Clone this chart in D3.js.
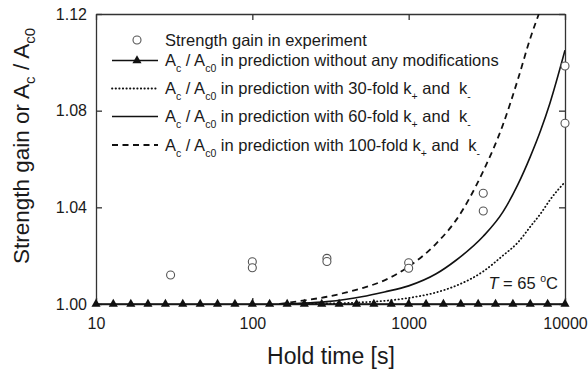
<!DOCTYPE html>
<html>
<head>
<meta charset="utf-8">
<script src="https://cdn.jsdelivr.net/npm/d3@7"></script>
<style>
body{margin:0;background:#fff;}
text{font-family:"Liberation Sans",Arial,sans-serif;fill:#1a1a1a;}
</style>
</head>
<body>
<script>
var width = 588, height = 377;

// experiment
var expTime = [30, 100, 100, 300, 300, 1000, 1000, 3000, 3000, 10000, 10000];
var expGain = [1.012, 1.0175, 1.015, 1.0189, 1.0176, 1.0171, 1.0148, 1.0458, 1.0385, 1.0985, 1.0748];

// prediction without modifications
var baseTime = [10, 12.9, 16.7, 21.5, 27.8, 35.9, 46.4, 59.9, 77.4, 100, 129, 167, 215, 278, 359, 464, 599, 774, 1000, 1292, 1668, 2154, 2783, 3594, 4642, 5995, 7743, 10000];
var baseRatio = [1, 1, 1, 1, 1, 1, 1, 1, 1, 1, 1, 1, 1, 1, 1, 1, 1, 1, 1, 1, 1, 1, 1, 1, 1, 1, 1, 1];

// predictions with scaled k+ and k-
var predTime = [150, 200, 300, 400, 500, 700, 1000, 1500, 2000, 3000, 4000, 5000, 6000, 7000, 8000, 10000];
var pred30 = [1.000, 1.000, 1.0002, 1.0004, 1.0007, 1.0013, 1.0025, 1.0048, 1.0075, 1.0135, 1.020, 1.0255, 1.032, 1.0375, 1.043, 1.0505];
var pred60 = [1.000, 1.0003, 1.001, 1.002, 1.003, 1.005, 1.0075, 1.0125, 1.018, 1.028, 1.038, 1.0495, 1.061, 1.072, 1.083, 1.105];
var dashTime = [150, 200, 300, 400, 500, 700, 1000, 1500, 2000, 3000, 4000, 5000, 6000, 6800];
var pred100 = [1.000, 1.0012, 1.003, 1.0048, 1.0065, 1.0098, 1.0155, 1.025, 1.0345, 1.055, 1.074, 1.093, 1.110, 1.12];

var xTicks = [10, 100, 1000, 10000];
var yTicks = [1.00, 1.04, 1.08, 1.12];

var pLeft = 96, pRight = 565, pTop = 14, pBottom = 304;

var svg = d3.select("body").append("svg")
    .attr("width", width)
    .attr("height", height);

var x = d3.scaleLog().domain([10, 10000]).range([pLeft, pRight]);
var y = d3.scaleLinear().domain([1.00, 1.12]).range([pBottom, pTop]);

svg.append("clipPath").attr("id", "clip")
  .append("rect")
    .attr("x", pLeft).attr("y", pTop)
    .attr("width", pRight - pLeft).attr("height", pBottom - pTop);

// axes (ticks point inward, mirrored top/right)
var axB = svg.append("g").attr("transform", "translate(0," + pBottom + ")")
    .call(d3.axisBottom(x).tickValues(xTicks).tickFormat(d3.format("d"))
        .tickSizeInner(-6).tickSizeOuter(0).tickPadding(14));
var axT = svg.append("g").attr("transform", "translate(0," + pTop + ")")
    .call(d3.axisTop(x).tickValues(xTicks).tickFormat("")
        .tickSizeInner(-6).tickSizeOuter(0));
var axL = svg.append("g").attr("transform", "translate(" + pLeft + ",0)")
    .call(d3.axisLeft(y).tickValues(yTicks).tickFormat(d3.format(".2f"))
        .tickSizeInner(-6).tickSizeOuter(0).tickPadding(9));
var axR = svg.append("g").attr("transform", "translate(" + pRight + ",0)")
    .call(d3.axisRight(y).tickValues(yTicks).tickFormat("")
        .tickSizeInner(-6).tickSizeOuter(0));

[axB, axT, axL, axR].forEach(function(a){
    a.selectAll("path,line").attr("stroke", "#333").attr("stroke-width", 1.3);
    a.selectAll("text").style("font-size", "16px").attr("fill", "#222");
});

// prediction curves
var line = function(xs, ys){
    return d3.line()
        .x(function(d, i){ return x(xs[i]); })
        .y(function(d, i){ return y(ys[i]); })
        .curve(d3.curveMonotoneX)(ys);
};

var curves = svg.append("g").attr("clip-path", "url(#clip)");
curves.append("path").attr("d", line(predTime, pred30))
    .attr("fill", "none").attr("stroke", "#111").attr("stroke-width", 1.8)
    .attr("stroke-linecap", "round").attr("stroke-dasharray", "0.4,3.2");
curves.append("path").attr("d", line(predTime, pred60))
    .attr("fill", "none").attr("stroke", "#111").attr("stroke-width", 1.6);
curves.append("path").attr("d", line(dashTime, pred100))
    .attr("fill", "none").attr("stroke", "#111").attr("stroke-width", 1.8)
    .attr("stroke-dasharray", "6,4.5");

// baseline prediction with triangles
svg.append("path").attr("d", line(baseTime, baseRatio))
    .attr("fill", "none").attr("stroke", "#111").attr("stroke-width", 1.5);
var tri = d3.symbol().type(d3.symbolTriangle).size(36);
svg.selectAll(".tri").data(baseRatio).enter().append("path")
    .attr("class", "tri")
    .attr("d", tri)
    .attr("transform", function(d, i){ return "translate(" + x(baseTime[i]) + "," + y(d) + ")"; })
    .attr("fill", "#111");

// experiment
svg.selectAll(".exp").data(expGain).enter().append("circle")
    .attr("class", "exp")
    .attr("cx", function(d, i){ return x(expTime[i]); })
    .attr("cy", function(d){ return y(d); })
    .attr("r", 4)
    .attr("fill", "#fff")
    .attr("stroke", "#555")
    .attr("stroke-width", 1.1);

// text with sub (1) / superscript (2) parts
var rich = function(sel, parts, subSize, off){
    var shift = 0;
    parts.forEach(function(p){
        var t = sel.append("tspan").text(p[0]);
        var want = p[1] == 1 ? off : (p[1] == 2 ? -off : 0);
        if(want != shift) t.attr("dy", want - shift);
        shift = want;
        if(p[1]) t.style("font-size", subSize + "px");
        if(p[2]) t.style("font-style", "italic");
    });
};

// legend
var lx = 165, symX0 = 112, symX1 = 158, symC = 137;
var rows = [46, 66, 94, 122, 150.5];
var legTexts = [
    [["Strength gain in experiment", 0]],
    [["A", 0], ["c", 1], [" / A", 0], ["c0", 1], [" in prediction without any modifications", 0]],
    [["A", 0], ["c", 1], [" / A", 0], ["c0", 1], [" in prediction with 30-fold k", 0], ["+", 1], [" and  k", 0], ["-", 1]],
    [["A", 0], ["c", 1], [" / A", 0], ["c0", 1], [" in prediction with 60-fold k", 0], ["+", 1], [" and  k", 0], ["-", 1]],
    [["A", 0], ["c", 1], [" / A", 0], ["c0", 1], [" in prediction with 100-fold k", 0], ["+", 1], [" and  k", 0], ["-", 1]]
];
legTexts.forEach(function(parts, i){
    var t = svg.append("text").attr("x", lx).attr("y", rows[i])
        .style("font-size", "16.5px").attr("xml:space", "preserve");
    rich(t, parts, 10.5, 6);
});
svg.append("circle").attr("cx", symC).attr("cy", rows[0] - 6).attr("r", 4)
    .attr("fill", "#fff").attr("stroke", "#555").attr("stroke-width", 1.1);
svg.append("line").attr("x1", symX0).attr("x2", symX1)
    .attr("y1", rows[1] - 5.5).attr("y2", rows[1] - 5.5)
    .attr("stroke", "#111").attr("stroke-width", 1.5);
svg.append("path").attr("d", tri)
    .attr("transform", "translate(" + symC + "," + (rows[1] - 5.5) + ")").attr("fill", "#111");
svg.append("line").attr("x1", symX0).attr("x2", symX1)
    .attr("y1", rows[2] - 5.5).attr("y2", rows[2] - 5.5)
    .attr("stroke", "#111").attr("stroke-width", 1.8)
    .attr("stroke-linecap", "round").attr("stroke-dasharray", "0.4,3.2");
svg.append("line").attr("x1", symX0).attr("x2", symX1)
    .attr("y1", rows[3] - 5.5).attr("y2", rows[3] - 5.5)
    .attr("stroke", "#111").attr("stroke-width", 1.6);
svg.append("line").attr("x1", symX0).attr("x2", symX1)
    .attr("y1", rows[4] - 5.5).attr("y2", rows[4] - 5.5)
    .attr("stroke", "#111").attr("stroke-width", 1.8).attr("stroke-dasharray", "6,4.5");

// temperature note
var tt = svg.append("text").attr("x", 558).attr("y", 288.5)
    .attr("text-anchor", "end").style("font-size", "16.5px").attr("xml:space", "preserve");
rich(tt, [["T", 0, true], [" = 65 ", 0], ["o", 2], ["C", 0]], 10.5, 7);

// axis titles
svg.append("text").attr("x", 331).attr("y", 364)
    .attr("text-anchor", "middle").style("font-size", "23px")
    .text("Hold time [s]");
var yt = svg.append("text").attr("transform", "translate(29,146) rotate(-90)")
    .attr("text-anchor", "middle").style("font-size", "22.5px").attr("xml:space", "preserve");
rich(yt, [["Strength gain or A", 0], ["c", 1], [" / A", 0], ["c0", 1]], 15, 6);
</script>
</body>
</html>
